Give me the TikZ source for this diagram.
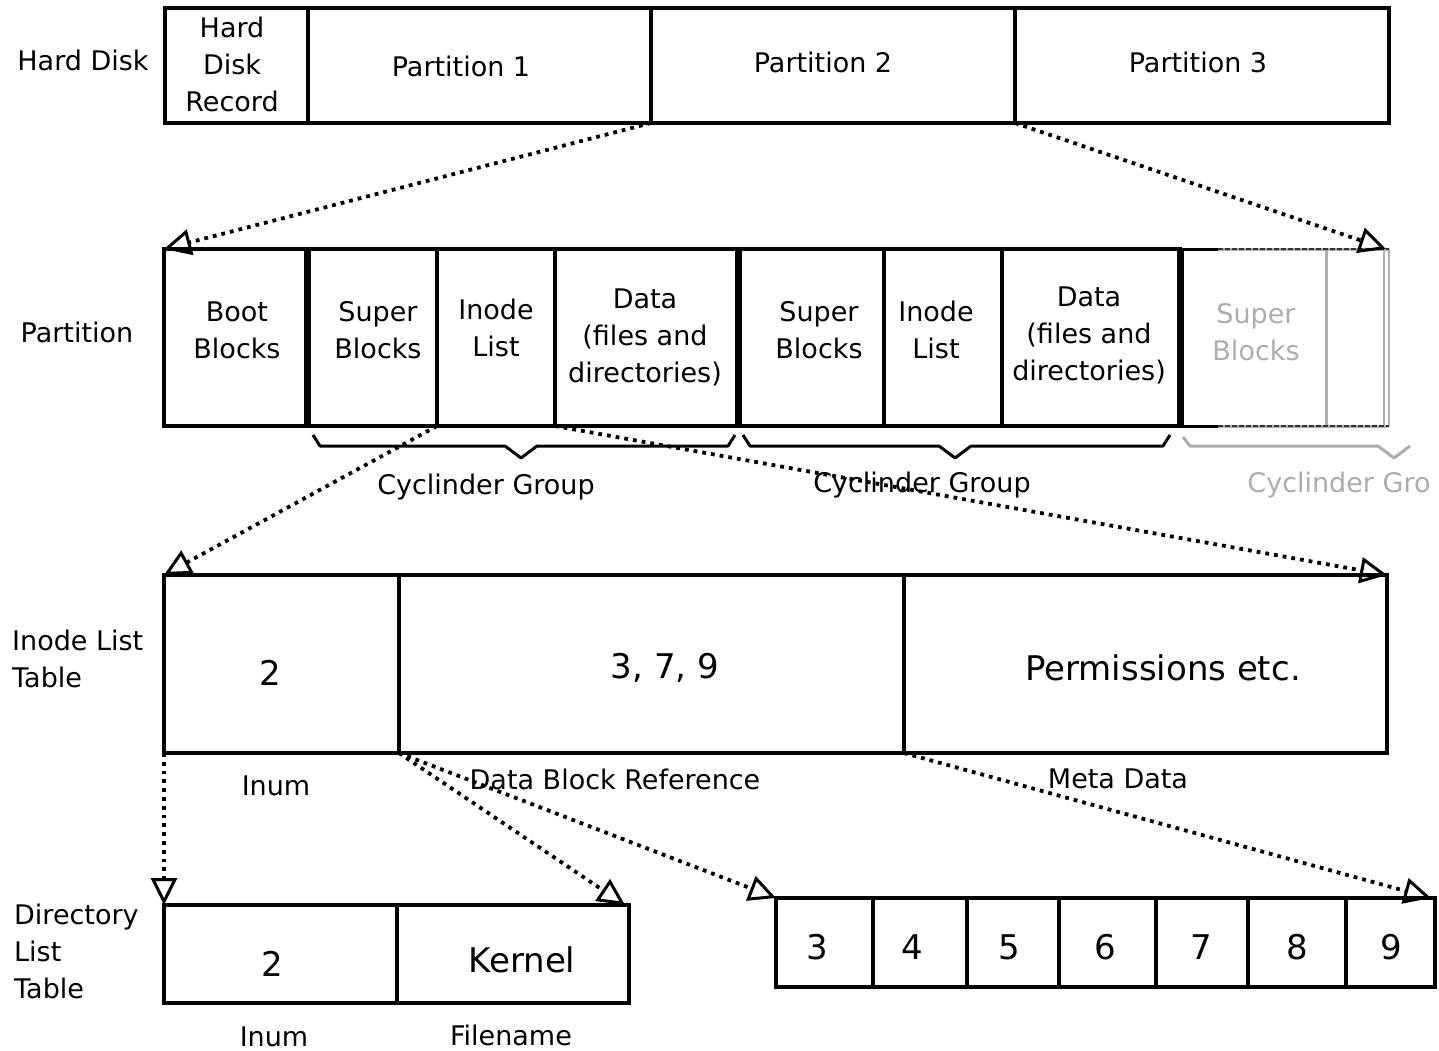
\documentclass[tikz,border=0pt]{standalone}
\usepackage{fontspec}
\setmainfont{DejaVu Sans}
\usetikzlibrary{arrows.meta}
\begin{document}
\begin{tikzpicture}[x=1pt,y=-1pt,
  cell/.style={draw, line width=3.2pt, inner sep=0pt, outer sep=0pt, anchor=north west},
  txt/.style={font=\fontsize{27}{37}\selectfont, align=center, inner sep=0pt},
  bigtxt/.style={font=\fontsize{34}{40}\selectfont, inner sep=0pt},
  ptr/.style={line width=3.8pt, dash pattern=on 3.8pt off 5pt, -{Triangle[open, length=27pt, width=26pt, line width=3pt]}},
  thickdiv/.style={line width=7pt},
  ghost/.style={color=black!32},
  brace/.style={line width=3pt, line join=round},
]
\useasboundingbox (0,0) rectangle (1439,1051);

% ---------- Hard disk row ----------
\node[txt] (lhd) at (83,60) {Hard Disk};
\node[cell, minimum width=143pt, minimum height=115pt] (hdr) at (165,8) {};
\node[cell, minimum width=343pt, minimum height=115pt] (p1) at (308,8) {};
\node[cell, minimum width=364pt, minimum height=115pt] (p2) at (651,8) {};
\node[cell, minimum width=374pt, minimum height=115pt] (p3) at (1015,8) {};
\node[txt] (thdr) at (232,64) {Hard\\Disk\\Record};
\node[txt] (tp1) at (461,66) {Partition 1};
\node[txt] (tp2) at (823,62) {Partition 2};
\node[txt] (tp3) at (1198,62) {Partition 3};

% ---------- Partition row ----------
\node[txt] (lpart) at (77,332) {Partition};
\node[cell, minimum width=143pt, minimum height=177pt] (boot) at (164,249) {};
\node[cell, minimum width=130pt, minimum height=177pt] (sb1) at (307,249) {};
\node[cell, minimum width=118pt, minimum height=177pt] (il1) at (437,249) {};
\node[cell, minimum width=183pt, minimum height=177pt] (d1) at (555,249) {};
\node[cell, minimum width=146pt, minimum height=177pt] (sb2) at (738,249) {};
\node[cell, minimum width=118pt, minimum height=177pt] (il2) at (884,249) {};
\node[cell, minimum width=178pt, minimum height=177pt] (d2) at (1002,249) {};
\node[cell, draw=none, minimum width=146pt, minimum height=177pt] (gsb) at (1180,249) {};
\node[cell, draw=none, minimum width=63pt, minimum height=177pt] (gr) at (1326,249) {};
\coordinate (gtr) at (1386,249);

\draw[thickdiv] (boot.north east) -- (boot.south east);
\draw[thickdiv] (d1.north east) -- (d1.south east);
\draw[thickdiv] (d2.north east) -- (d2.south east);

% ghost part
\draw[ghost, line width=3pt] (gsb.north east) -- (gsb.south east);
\draw[ghost, line width=1.5pt] ([xshift=-5pt]gr.north east) -- ([xshift=-5pt]gr.south east);
\draw[ghost, line width=1.5pt] (gr.north east) -- (gr.south east);
\draw[line width=3pt] (gsb.north west) -- ++(38,0);
\draw[line width=3pt] (gsb.south west) -- ++(38,0);
\draw[ghost, line width=3pt] ([xshift=38pt]gsb.north west) -- (gr.north east);
\draw[ghost, line width=3pt] ([xshift=38pt]gsb.south west) -- (gr.south east);
\draw[black!80, line width=2pt, dash pattern=on 5pt off 2pt] ([xshift=38pt]gsb.north west) -- (gr.north east);
\draw[black!80, line width=2pt, dash pattern=on 5pt off 2pt] ([xshift=38pt]gsb.south west) -- (gr.south east);

\node[txt] (tboot) at (237,330) {Boot\\Blocks};
\node[txt] (tsb1) at (378,330) {Super\\Blocks};
\node[txt] (til1) at (496,328) {Inode\\List};
\node[txt] (td1) at (645,337) {Data\\(files and\\directories)};
\node[txt] (tsb2) at (819,330) {Super\\Blocks};
\node[txt] (til2) at (936,330) {Inode\\List};
\node[txt] (td2) at (1089,335) {Data\\(files and\\directories)};
\node[txt, ghost] (tgsb) at (1256,332) {Super\\Blocks};

% braces
\draw[brace] (313,435) -- (320,446) -- (505,446) -- (521,458) -- (537,446) -- (728,446) -- (735,435);
\draw[brace] (743,435) -- (750,446) -- (939,446) -- (955,458) -- (971,446) -- (1163,446) -- (1170,435);
\draw[brace, ghost] (1183,437) -- (1190,446) -- (1378,446) -- (1394,458) -- (1410,446);
\node[txt] (cg1) at (486,487) {Cyclinder Group};
\node[txt] (cg2) at (922,485) {Cyclinder Group};
\node[txt, ghost] (cg3) at (1339,485) {Cyclinder Gro};

% ---------- Inode list table ----------
\node[txt, align=left, anchor=west] (lil) at (12,659) {Inode List\\Table};
\node[cell, minimum width=235pt, minimum height=178pt] (i1) at (164,575) {};
\node[cell, minimum width=505pt, minimum height=178pt] (i2) at (399,575) {};
\node[cell, minimum width=483pt, minimum height=178pt] (i3) at (904,575) {};
\node[bigtxt] (ti1) at (270,673) {2};
\node[bigtxt] (ti2) at (665,668) {3, 7, 9};
\node[bigtxt] (ti3) at (1163,668) {Permissions etc.};
\node[txt] (cinum) at (276,786) {Inum};
\node[txt] (cdbr) at (615,779) {Data Block Reference};
\node[txt] (cmeta) at (1118,779) {Meta Data};

% ---------- Directory list table ----------
\node[txt, align=left, anchor=west] (ldl) at (14,951) {Directory\\List\\Table};
\node[cell, minimum width=233pt, minimum height=98pt] (dl1) at (164,905) {};
\node[cell, minimum width=232pt, minimum height=98pt] (dl2) at (397,905) {};
\node[bigtxt] (tdl1) at (272,964) {2};
\node[bigtxt] (tdl2) at (522,960) {Kernel};
\node[txt] (cinum2) at (274,1037) {Inum};
\node[txt] (cfile) at (511,1035) {Filename};

% ---------- Data blocks ----------
\node[cell, minimum width=97pt, minimum height=89pt] (b3) at (776,898) {};
\node[cell, minimum width=94pt, minimum height=89pt] (b4) at (873,898) {};
\node[cell, minimum width=92pt, minimum height=89pt] (b5) at (967,898) {};
\node[cell, minimum width=97pt, minimum height=89pt] (b6) at (1059,898) {};
\node[cell, minimum width=92pt, minimum height=89pt] (b7) at (1156,898) {};
\node[cell, minimum width=98pt, minimum height=89pt] (b8) at (1248,898) {};
\node[cell, minimum width=89pt, minimum height=89pt] (b9) at (1346,898) {};
\foreach \n/\x in {3/817,4/912,5/1009,6/1105,7/1201,8/1297,9/1391}
  \node[bigtxt] (tb\n) at (\x,947) {\n};

% ---------- pointers ----------
\draw[ptr] (p1.south east) -- (boot.north west);
\draw[ptr] (p3.south west) -- (gtr);
\draw[ptr] (il1.south west) -- (i1.north west);
\draw[ptr] (d1.south west) -- (i3.north east);
\draw[ptr] (i1.south west) -- (dl1.north west);
\draw[ptr] (i2.south west) -- ([xshift=-4pt]dl2.north east);
\draw[ptr] (i2.south west) -- (b3.north west);
\draw[ptr] (i3.south west) -- ([xshift=-4pt]b9.north east);
\end{tikzpicture}
\end{document}
